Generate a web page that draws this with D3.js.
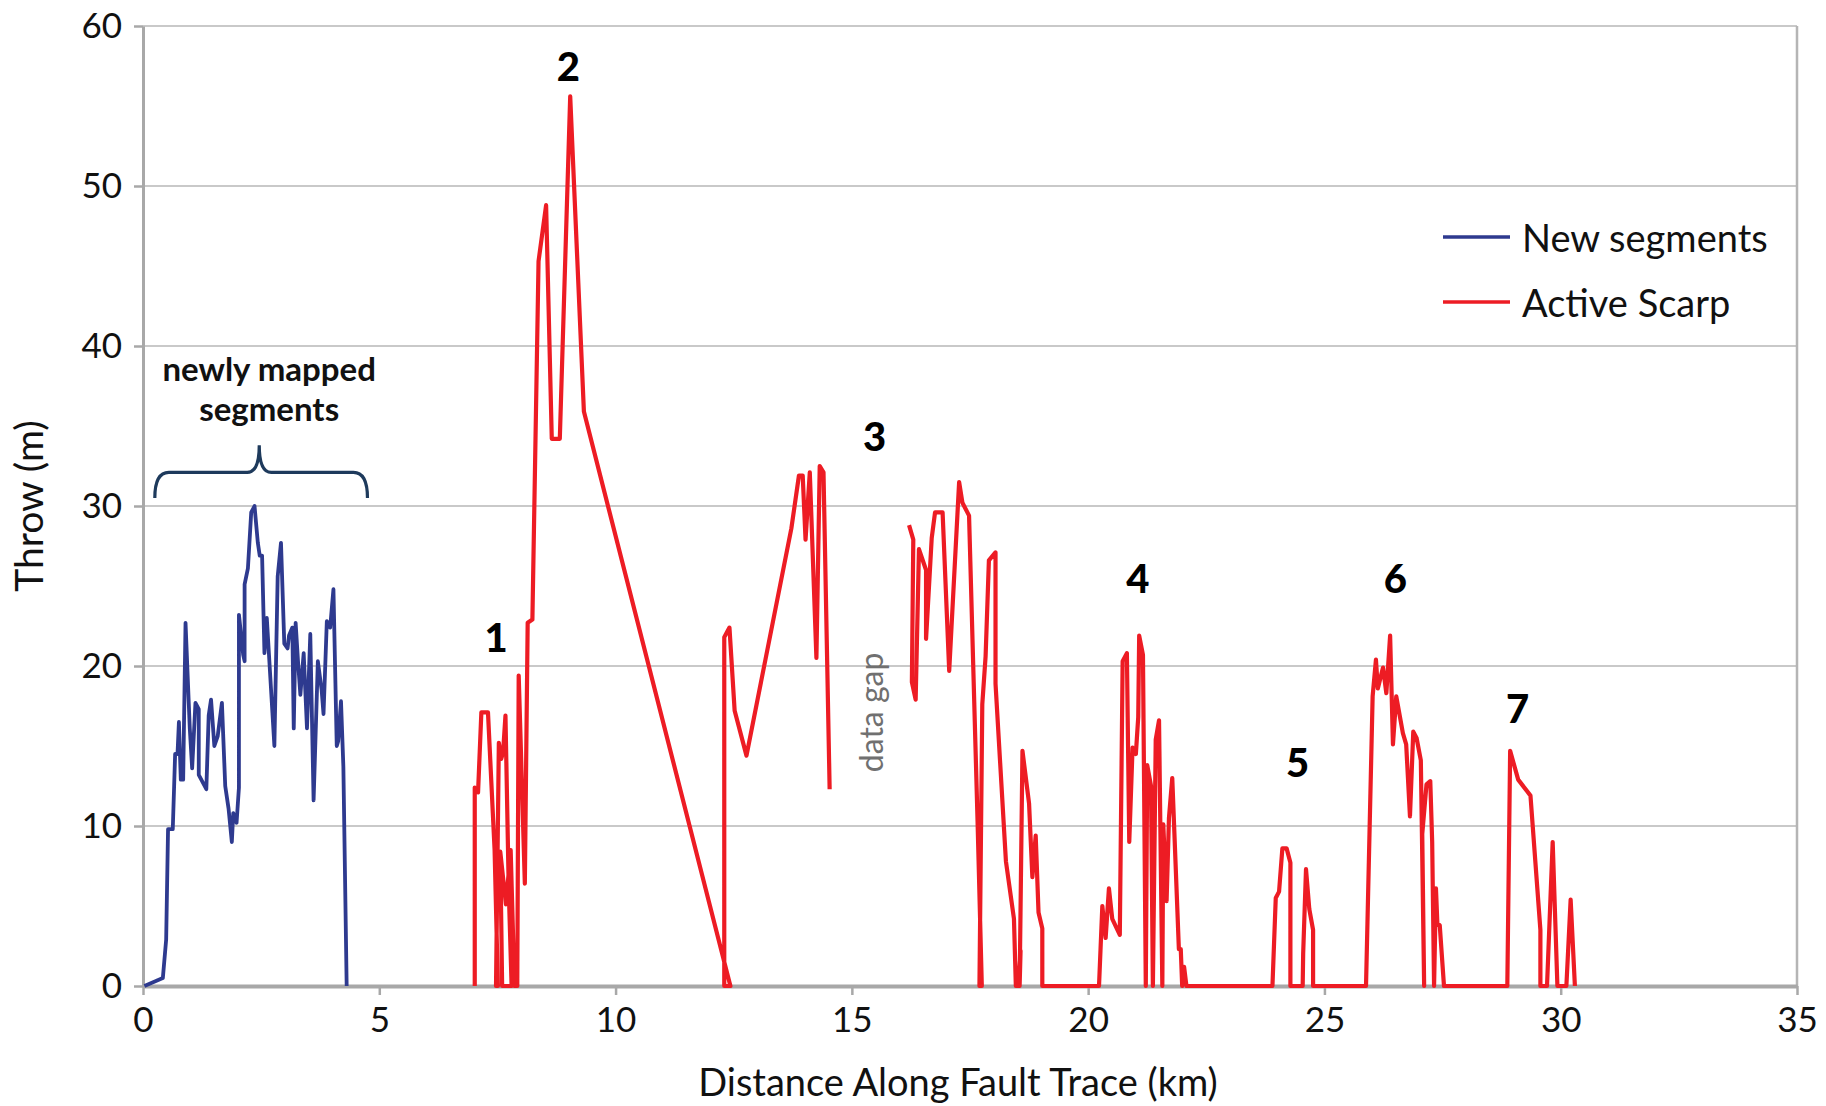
<!DOCTYPE html>
<html>
<head>
<meta charset="utf-8">
<script src="https://cdn.jsdelivr.net/npm/d3@7"></script>
<style>
  body { margin: 0; background: #fff; }
  text { font-family: Lato, "Noto Sans", sans-serif; }
</style>
</head>
<body>
<div id="wrapper"></div>
<script>
// data: [distance km, throw m]
const newSegments = [
  [0.03, 0], [0.42, 0.5], [0.49, 2.9], [0.53, 9.8], [0.63, 9.8], [0.68, 14.5], [0.73, 14.5],
  [0.76, 16.5], [0.80, 12.9], [0.85, 12.9], [0.90, 22.7], [0.99, 16.1], [1.04, 13.6],
  [1.11, 17.7], [1.18, 17.3], [1.18, 13.2], [1.34, 12.3], [1.39, 16.9], [1.44, 17.9],
  [1.51, 15.0], [1.58, 15.6], [1.67, 17.7], [1.74, 12.5], [1.81, 11.1], [1.88, 9.0],
  [1.91, 10.8], [1.98, 10.2], [2.03, 12.4], [2.03, 23.2], [2.12, 20.7], [2.15, 20.3],
  [2.15, 25.1], [2.22, 26.1], [2.29, 29.6], [2.36, 30.0], [2.43, 27.7], [2.47, 26.9],
  [2.52, 26.9], [2.57, 20.8], [2.62, 23.0], [2.78, 15.0], [2.85, 25.6], [2.92, 27.7],
  [2.99, 21.4], [3.06, 21.1], [3.09, 21.9], [3.16, 22.4], [3.19, 16.1], [3.23, 22.7],
  [3.28, 20.3], [3.33, 18.2], [3.40, 20.8], [3.47, 16.1], [3.54, 22.0], [3.61, 11.6],
  [3.70, 20.3], [3.78, 18.5], [3.82, 17.0], [3.89, 22.8], [3.96, 22.4], [4.03, 24.8],
  [4.10, 15.0], [4.13, 15.3], [4.19, 17.8], [4.24, 13.7], [4.31, 0]
];

// active scarp, before the data gap (zones 1-3)
const scarpSouth = [
  [7.02, 0], [7.02, 12.4], [7.09, 12.1], [7.16, 17.1], [7.30, 17.1], [7.44, 8.5], [7.51, 0],
  [7.47, 0], [7.53, 15.2], [7.58, 14.2], [7.62, 14.6], [7.67, 16.9], [7.74, 6.0], [7.80, 0],
  [7.70, 0], [7.60, 0], [7.56, 8.4], [7.68, 5.1], [7.78, 8.5], [7.86, 0], [7.92, 0],
  [7.95, 19.4], [8.08, 6.4], [8.14, 22.7], [8.24, 22.9], [8.37, 45.3], [8.53, 48.8],
  [8.65, 34.2], [8.82, 34.2], [9.04, 55.6], [9.33, 35.9], [12.43, 0], [12.30, 0],
  [12.30, 21.8], [12.41, 22.4], [12.52, 17.2], [12.77, 14.4], [13.72, 28.6], [13.88, 31.9],
  [13.96, 31.9], [14.02, 27.9], [14.11, 32.1], [14.25, 20.5], [14.32, 32.5], [14.40, 32.1],
  [14.53, 12.3]
];

// active scarp, after the data gap (zones 3-7)
const scarpNorth = [
  [16.21, 28.8], [16.30, 27.9], [16.27, 19.0], [16.35, 17.9], [16.42, 27.3], [16.57, 26.0],
  [16.57, 21.7], [16.69, 28.0], [16.76, 29.6], [16.92, 29.6], [17.06, 19.7], [17.27, 31.5],
  [17.34, 30.2], [17.48, 29.4], [17.66, 10.3], [17.75, 0], [17.70, 0], [17.76, 17.6],
  [17.83, 20.6], [17.90, 26.6], [18.04, 27.1], [18.04, 18.9], [18.26, 7.8], [18.43, 4.2],
  [18.47, 0], [18.52, 0], [18.57, 2.2], [18.55, 0], [18.61, 14.7], [18.75, 11.4],
  [18.82, 6.8], [18.89, 9.4], [18.95, 4.6], [19.03, 3.6], [19.03, 0],
  [20.23, 0], [20.30, 5.0], [20.37, 3.0], [20.44, 6.1], [20.51, 4.2], [20.67, 3.2],
  [20.73, 20.3], [20.82, 20.8], [20.87, 9.0], [20.94, 14.9], [21.01, 14.5], [21.06, 16.8],
  [21.08, 21.9], [21.16, 20.7], [21.22, 0], [21.25, 13.8], [21.33, 12.5], [21.37, 0],
  [21.43, 15.4], [21.50, 16.6], [21.57, 0], [21.59, 10.1], [21.66, 5.3], [21.71, 10.5],
  [21.78, 13.0], [21.92, 2.3], [21.96, 2.3], [21.99, 0], [22.03, 1.2], [22.08, 0],
  [23.90, 0], [23.97, 5.5], [24.04, 5.9], [24.11, 8.6], [24.20, 8.6], [24.28, 7.7],
  [24.28, 0], [24.54, 0], [24.55, 2.0], [24.61, 7.3], [24.68, 4.8], [24.76, 3.5], [24.76, 0],
  [25.88, 0], [26.02, 18.1], [26.09, 20.4], [26.13, 18.6], [26.24, 19.9], [26.31, 18.3],
  [26.39, 21.9], [26.45, 15.1], [26.52, 18.1], [26.66, 15.8], [26.73, 15.1], [26.81, 10.6],
  [26.88, 15.9], [26.95, 15.5], [27.04, 14.1], [27.11, 0], [27.07, 9.5], [27.16, 12.6],
  [27.24, 12.8], [27.28, 9.0], [27.32, 0], [27.36, 6.1], [27.39, 3.9], [27.44, 3.8],
  [27.53, 0],
  [28.87, 0], [28.93, 14.7], [29.10, 12.9], [29.36, 11.9], [29.57, 3.5], [29.57, 0],
  [29.71, 0], [29.83, 9.0], [29.93, 0], [30.12, 0], [30.21, 5.4], [30.30, 0]
];

// numbered scarp zones: label, km, m (text centre)
const zoneLabels = ["1", "2", "3", "4", "5", "6", "7"];
const zoneX = [7.47, 9.0, 15.48, 21.05, 24.43, 26.5, 29.09];
const zoneY = [21.8, 57.5, 34.4, 25.5, 14.0, 25.5, 17.4];

const xTicks = [0, 5, 10, 15, 20, 25, 30, 35];
const yTicks = [0, 10, 20, 30, 40, 50, 60];

const seriesNames = ["New segments", "Active Scarp"];
const seriesColors = ["#2e3a8f", "#ed1c24"];

// dimensions
let dimensions = {
  width: 1826,
  height: 1106,
  margin: { top: 26, right: 29, bottom: 120, left: 143 },
};
dimensions.boundedWidth = dimensions.width - dimensions.margin.left - dimensions.margin.right;
dimensions.boundedHeight = dimensions.height - dimensions.margin.top - dimensions.margin.bottom;

const wrapper = d3.select("#wrapper")
  .append("svg")
  .attr("width", dimensions.width)
  .attr("height", dimensions.height);

const bounds = wrapper.append("g")
  .attr("transform", `translate(${dimensions.margin.left},${dimensions.margin.top})`);

const xScale = d3.scaleLinear().domain([0, 35]).range([0, dimensions.boundedWidth]);
const yScale = d3.scaleLinear().domain([0, 60]).range([dimensions.boundedHeight, 0]);

// gridlines
bounds.append("g")
  .selectAll("line")
  .data(yTicks.filter(d => d > 0))
  .join("line")
  .attr("x1", 0)
  .attr("x2", dimensions.boundedWidth)
  .attr("y1", d => yScale(d))
  .attr("y2", d => yScale(d))
  .attr("stroke", "#c9c9c9")
  .attr("stroke-width", 2);

// right frame line
bounds.append("line")
  .attr("x1", xScale(35)).attr("x2", xScale(35))
  .attr("y1", yScale(0)).attr("y2", yScale(60))
  .attr("stroke", "#b5b5b5")
  .attr("stroke-width", 2.5);

// axes
const xAxisGenerator = d3.axisBottom(xScale).tickValues(xTicks).tickSize(9).tickPadding(12).tickSizeOuter(0);
const xAxis = bounds.append("g")
  .attr("transform", `translate(0,${dimensions.boundedHeight})`)
  .call(xAxisGenerator);
xAxis.select(".domain").attr("stroke", "#a8a8a8").attr("stroke-width", 4);
xAxis.selectAll(".tick line").attr("stroke", "#a8a8a8").attr("stroke-width", 2.5);
xAxis.selectAll(".tick text")
  .attr("fill", "#111")
  .style("font-size", "35px");

const yAxisGenerator = d3.axisLeft(yScale).tickValues(yTicks).tickSize(9).tickPadding(12).tickSizeOuter(0);
const yAxis = bounds.append("g").call(yAxisGenerator);
yAxis.select(".domain").attr("stroke", "#a8a8a8").attr("stroke-width", 3);
yAxis.selectAll(".tick line").attr("stroke", "#a8a8a8").attr("stroke-width", 2.5);
yAxis.selectAll(".tick text")
  .attr("fill", "#111")
  .style("font-size", "35px");

// axis labels
xAxis.append("text")
  .attr("x", 958 - dimensions.margin.left)
  .attr("y", 110)
  .attr("fill", "#111")
  .style("font-size", "38px")
  .style("text-anchor", "middle")
  .text("Distance Along Fault Trace (km)");

yAxis.append("text")
  .attr("x", -yScale(30))
  .attr("y", -110)
  .attr("fill", "#111")
  .style("font-size", "39px")
  .style("text-anchor", "middle")
  .attr("dominant-baseline", "middle")
  .attr("transform", "rotate(-90)")
  .text("Throw (m)");

// lines
const lineGenerator = d3.line()
  .x(d => xScale(d[0]))
  .y(d => yScale(d[1]))
  .curve(d3.curveLinear);

bounds.append("path")
  .datum(newSegments)
  .attr("d", lineGenerator)
  .attr("fill", "none")
  .attr("stroke", seriesColors[0])
  .attr("stroke-width", 3.8)
  .attr("stroke-linejoin", "round");

[scarpSouth, scarpNorth].forEach(piece => {
  bounds.append("path")
    .datum(piece)
    .attr("d", lineGenerator)
    .attr("fill", "none")
    .attr("stroke", seriesColors[1])
    .attr("stroke-width", 4.2)
    .attr("stroke-linejoin", "round");
});

// zone numbers
bounds.append("g")
  .selectAll("text")
  .data(zoneLabels)
  .join("text")
  .attr("x", (d, i) => xScale(zoneX[i]))
  .attr("y", (d, i) => yScale(zoneY[i]))
  .attr("text-anchor", "middle")
  .attr("dominant-baseline", "central")
  .attr("fill", "#000")
  .style("font-size", "40px")
  .style("font-weight", "900")
  .text(d => d);

// data gap note
bounds.append("text")
  .attr("transform", `translate(${xScale(15.39)},${yScale(17.1)}) rotate(-90)`)
  .attr("text-anchor", "middle")
  .attr("dominant-baseline", "central")
  .attr("fill", "#707070")
  .style("font-size", "32px")
  .text("data gap");

// brace over the newly mapped segments
const braceL = xScale(0.25), braceR = xScale(4.75), braceM = xScale(2.46);
const braceBottom = yScale(30.5), braceMid = yScale(32.1), braceTip = yScale(33.8);
bounds.append("path")
  .attr("d", `M${braceL},${braceBottom} Q${braceL},${braceMid} ${braceL + 14},${braceMid}
    L${braceM - 12},${braceMid} Q${braceM},${braceMid} ${braceM},${braceTip}
    Q${braceM},${braceMid} ${braceM + 12},${braceMid}
    L${braceR - 14},${braceMid} Q${braceR},${braceMid} ${braceR},${braceBottom}`)
  .attr("fill", "none")
  .attr("stroke", "#1e3a5c")
  .attr("stroke-width", 3.2);

const note = bounds.append("text")
  .attr("x", xScale(2.67))
  .attr("text-anchor", "middle")
  .attr("fill", "#111")
  .style("font-size", "33px")
  .style("font-weight", "bold");
note.append("tspan").attr("x", xScale(2.67)).attr("y", yScale(38.6)).attr("dominant-baseline", "central").text("newly mapped");
note.append("tspan").attr("x", xScale(2.67)).attr("y", yScale(36.1)).attr("dominant-baseline", "central").text("segments");

// legend
const legend = wrapper.append("g").attr("transform", "translate(1443,237)");
const legendItems = legend.selectAll("g")
  .data(seriesNames)
  .join("g")
  .attr("transform", (d, i) => `translate(0,${i * 65})`);
legendItems.append("line")
  .attr("x1", 0).attr("x2", 67)
  .attr("stroke", (d, i) => seriesColors[i])
  .attr("stroke-width", 3.5);
legendItems.append("text")
  .attr("x", 79)
  .attr("dominant-baseline", "central")
  .attr("fill", "#111")
  .style("font-size", "38px")
  .text(d => d);
</script>
</body>
</html>
